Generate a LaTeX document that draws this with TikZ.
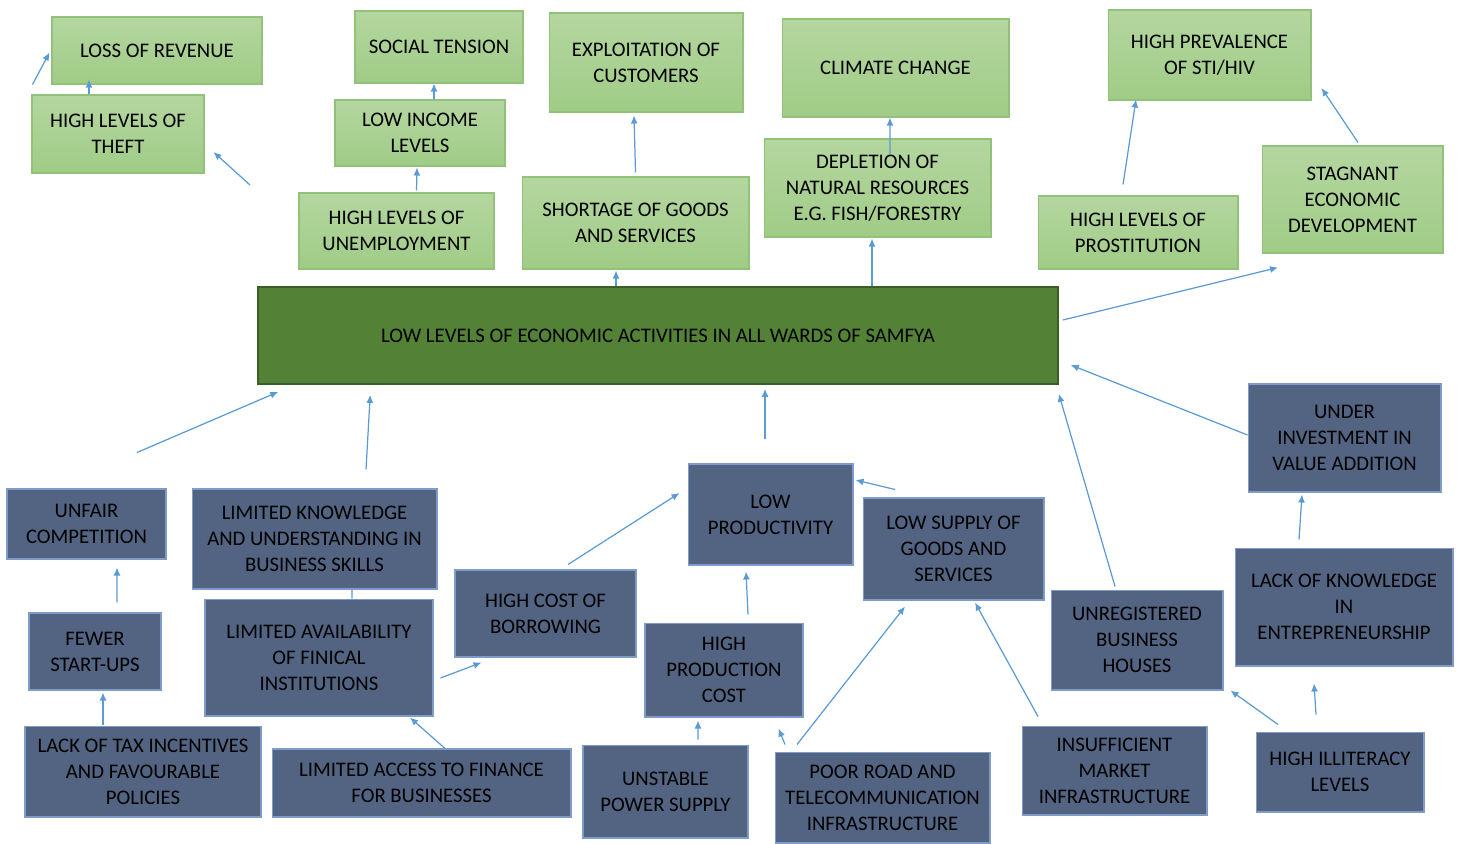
\documentclass[tikz,border=0pt]{standalone}
\usepackage{fontspec}
\setmainfont{Carlito}
\usetikzlibrary{arrows.meta,calc,positioning}

\definecolor{leaftop}{HTML}{B4D6A0}
\definecolor{leafbot}{HTML}{A0CC86}
\definecolor{leafline}{HTML}{92C27A}
\definecolor{core}{HTML}{538135}
\definecolor{coreline}{HTML}{3B5E26}
\definecolor{slate}{HTML}{526482}
\definecolor{slateline}{HTML}{7F9CC8}
\definecolor{link}{HTML}{5B9BD5}

\tikzset{
  effect/.style={draw=leafline, line width=0.6pt, top color=leaftop, bottom color=leafbot,
    align=center, inner sep=1pt, font=\fontsize{11.8}{14.8}\selectfont},
  cause/.style={draw=slateline, line width=0.6pt, fill=slate, text=black,
    align=center, inner sep=1pt, font=\fontsize{11.8}{14.8}\selectfont},
  problem/.style={draw=coreline, line width=1pt, fill=core, text=black,
    align=center, font=\fontsize{11.8}{14.8}\selectfont},
  arr/.style={draw=link, line width=0.7pt, -{Latex[length=1.6mm,width=1.4mm]}},
  plainlink/.style={draw=link, line width=0.7pt}
}

\begin{document}
\begin{tikzpicture}[x=0.02cm, y=-0.02cm]
    \useasboundingbox (0,0) rectangle (1459,843);

    % core problem
    \node[problem, minimum width=16cm, minimum height=1.94cm] (main) at (658,335.5)
        {LOW LEVELS OF ECONOMIC ACTIVITIES IN ALL WARDS OF SAMFYA};

    % effects
    \node[effect, minimum width=4.2cm, minimum height=1.34cm] (rev) at (157,50.5) {LOSS OF REVENUE};
    \node[effect, minimum width=3.44cm, minimum height=1.56cm] (theft) at (118,134) {HIGH LEVELS OF\\THEFT};
    \node[effect, minimum width=3.36cm, minimum height=1.44cm] (tension) at (439,47) {SOCIAL TENSION};
    \node[effect, minimum width=3.4cm, minimum height=1.32cm] (income) at (420,133) {LOW INCOME\\LEVELS};
    \node[effect, minimum width=3.9cm, minimum height=1.52cm] (unemp) at (396.5,231) {HIGH LEVELS OF\\UNEMPLOYMENT};
    \node[effect, minimum width=3.88cm, minimum height=1.98cm] (exploit) at (646,62.5) {EXPLOITATION OF\\CUSTOMERS};
    \node[effect, minimum width=4.54cm, minimum height=1.84cm] (shortage) at (635.5,223) {SHORTAGE OF GOODS\\AND SERVICES};
    \node[effect, minimum width=4.54cm, minimum height=1.96cm] (climate) at (895.5,68) {CLIMATE CHANGE};
    \node[effect, minimum width=4.54cm, minimum height=1.96cm] (deplete) at (877.5,188) {DEPLETION OF\\NATURAL RESOURCES\\E.G. FISH/FORESTRY};
    \node[effect, minimum width=4.06cm, minimum height=1.8cm] (sti) at (1209.5,55) {HIGH PREVALENCE\\OF STI/HIV};
    \node[effect, minimum width=4cm, minimum height=1.46cm] (prost) at (1138,232.5) {HIGH LEVELS OF\\PROSTITUTION};
    \node[effect, minimum width=3.62cm, minimum height=2.14cm] (stag) at (1352.5,199.5) {STAGNANT\\ECONOMIC\\DEVELOPMENT};

    % causes
    \node[cause, minimum width=3.18cm, minimum height=1.4cm] (unfair) at (86.5,524) {UNFAIR\\COMPETITION};
    \node[cause, minimum width=4.9cm, minimum height=2cm] (know) at (314.5,539) {LIMITED KNOWLEDGE\\AND UNDERSTANDING IN\\BUSINESS SKILLS};
    \node[cause, minimum width=2.64cm, minimum height=1.54cm] (fewer) at (95,651.5) {FEWER\\START-UPS};
    \node[cause, minimum width=4.56cm, minimum height=2.34cm] (avail) at (319,657.5) {LIMITED AVAILABILITY\\OF FINICAL\\INSTITUTIONS};
    \node[cause, minimum width=4.72cm, minimum height=1.82cm] (tax) at (143,771.5) {LACK OF TAX INCENTIVES\\AND FAVOURABLE\\POLICIES};
    \node[cause, minimum width=5.98cm, minimum height=1.36cm] (access) at (421.5,783) {LIMITED ACCESS TO FINANCE\\FOR BUSINESSES};
    \node[cause, minimum width=3.62cm, minimum height=1.74cm] (borrow) at (545.5,613.5) {HIGH COST OF\\BORROWING};
    \node[cause, minimum width=3.3cm, minimum height=2.02cm] (prod) at (770.5,514.5) {LOW\\PRODUCTIVITY};
    \node[cause, minimum width=3.62cm, minimum height=2.04cm] (supply) at (953.5,549) {LOW SUPPLY OF\\GOODS AND\\SERVICES};
    \node[cause, minimum width=3.16cm, minimum height=1.88cm] (pcost) at (724,670) {HIGH\\PRODUCTION\\COST};
    \node[cause, minimum width=3.3cm, minimum height=1.86cm] (power) at (665.5,791.5) {UNSTABLE\\POWER SUPPLY};
    \node[cause, minimum width=4.3cm, minimum height=1.82cm] (road) at (882.5,797.5) {POOR ROAD AND\\TELECOMMUNICATION\\INFRASTRUCTURE};
    \node[cause, minimum width=3.44cm, minimum height=2cm] (unreg) at (1137,640) {UNREGISTERED\\BUSINESS\\HOUSES};
    \node[cause, minimum width=3.7cm, minimum height=1.78cm] (insuf) at (1114.5,770.5) {INSUFFICIENT\\MARKET\\INFRASTRUCTURE};
    \node[cause, minimum width=3.86cm, minimum height=2.16cm] (under) at (1344.5,438) {UNDER\\INVESTMENT IN\\VALUE ADDITION};
    \node[cause, minimum width=4.36cm, minimum height=2.36cm] (lack) at (1344,607) {LACK OF KNOWLEDGE\\IN\\ENTREPRENEURSHIP};
    \node[cause, minimum width=3.36cm, minimum height=1.6cm] (illit) at (1340,772) {HIGH ILLITERACY\\LEVELS};

    \coordinate (loose) at (250,185);

    % arrows, top half
    \draw[arr] ($(theft.north west)+(1,-10)$) -- ($(rev.west)+(-2,2)$);
    \draw[arr] ($(theft.north)+(-29,0)$) -- ($(rev.south)+(-68,-5)$);
    \draw[arr] (loose) -- ($(theft.east)+(9,18)$);
    \draw[arr] ($(income.north)+(14,0)$) -- ($(tension.south)+(-5,0)$);
    \draw[arr] ($(unemp.north)+(20,-2)$) -- ($(income.south)+(-3,1)$);
    \draw[arr] ($(main.north)+(-42,0)$) -- ($(shortage.south)+(-19.5,1)$);
    \draw[arr] ($(shortage.north)+(0,-4)$) -- ($(exploit.south)+(-12,3)$);
    \draw[arr] ($(main.north)+(214,0)$) -- ($(deplete.south)+(-5.5,1)$);
    \draw[arr] ($(deplete.north)+(12.5,16)$) -- ($(climate.south)+(-5.5,0)$);
    \draw[arr] ($(prost.north)+(-15,-11)$) -- ($(sti.south)+(-73.5,-1)$);
    \draw[arr] ($(stag.north)+(5.5,-3)$) -- ($(sti.east)+(10,33)$);
    \draw[arr] ($(main.east)+(4,-15.5)$) -- ($(stag.south)+(-74.5,14)$);

    % arrows, bottom half
    \draw[arr] ($(unfair.north)+(50.5,-36)$) -- ($(main.south west)+(21,7)$);
    \draw[arr] ($(know.north)+(51.5,-19)$) -- ($(main.south west)+(113,10)$);
    \draw[arr] ($(fewer.north)+(22,-10)$) -- ($(unfair.south)+(30.5,8)$);
    \draw[arr] ($(tax.north)+(-40,-1)$) -- ($(fewer.south)+(8,2)$);
    \draw[plainlink] ($(know.south)+(37.5,0)$) -- ($(avail.north)+(33,0)$);
    \draw[arr] ($(avail.east)+(7,20.5)$) -- ($(borrow.south west)+(27,5)$);
    \draw[arr] ($(access.north)+(23.5,0)$) -- ($(avail.south)+(91,1)$);
    \draw[arr] ($(borrow.north)+(22.5,-5)$) -- ($(prod.west)+(-8,-21.5)$);
    \draw[arr] ($(prod.north)+(-5.5,-24)$) -- ($(main.south)+(107,4)$);
    \draw[arr] ($(pcost.north)+(24,-8)$) -- ($(prod.south)+(-24.5,6)$);
    \draw[arr] ($(supply.north)+(-58.5,-8)$) -- ($(prod.east)+(2,-34.5)$);
    \draw[arr] ($(power.north)+(32.5,-5)$) -- ($(pcost.south)+(-26,3)$);
    \draw[arr] ($(road.north)+(-97.5,-7)$) -- ($(pcost.south east)+(-25,11)$);
    \draw[arr] ($(road.north)+(-85.5,-7)$) -- ($(supply.south)+(-48.5,6)$);
    \draw[arr] ($(insuf.north)+(-76.5,-9)$) -- ($(supply.south)+(21.5,2)$);
    \draw[arr] ($(unreg.north)+(-22,-3)$) -- ($(main.south east)+(0,9)$);
    \draw[arr] ($(under.west)+(0,-3)$) -- ($(main.east)+(12,29.5)$);
    \draw[arr] ($(lack.north)+(-45,-8)$) -- ($(under.south)+(-42.5,2)$);
    \draw[arr] ($(illit.north)+(-62,-7)$) -- ($(unreg.south east)+(7,0)$);
    \draw[arr] ($(illit.north)+(-24,-17)$) -- ($(lack.south)+(-30,17)$);
\end{tikzpicture}
\end{document}
